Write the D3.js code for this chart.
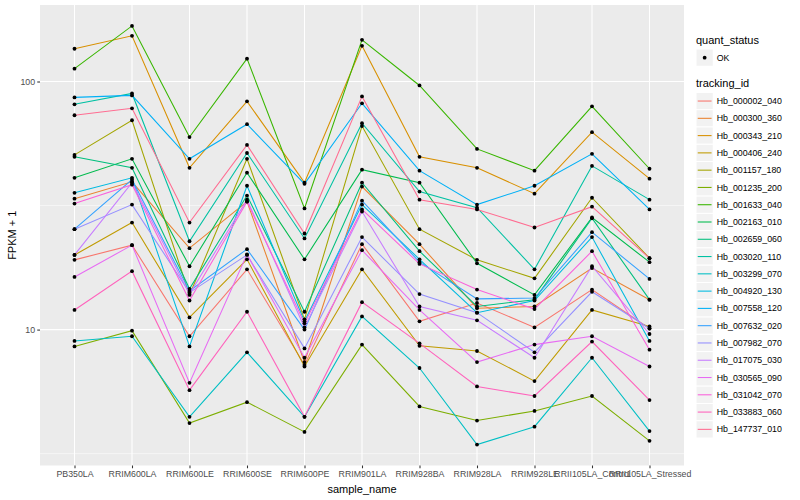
<!DOCTYPE html>
<html lang="en">
<head>
    <meta charset="UTF-8">
    <title>FPKM lines</title>
    <script src="https://d3js.org/d3.v7.min.js"></script>
    <style>
        body { margin: 0; background: #ffffff; }
        svg text { font-family: "Liberation Sans", Arial, Helvetica, sans-serif; }
    </style>
</head>
<body>
<svg id="chart" width="800" height="500"></svg>
<script>
    // samples on the x axis
    var samples = ["PB350LA", "RRIM600LA", "RRIM600LE", "RRIM600SE", "RRIM600PE", "RRIM901LA",
        "RRIM928BA", "RRIM928LA", "RRIM928LE", "RRII105LA_Control", "RRII105LA_Stressed"];

    var trackingIds = ["Hb_000002_040", "Hb_000300_360", "Hb_000343_210", "Hb_000406_240", "Hb_001157_180",
        "Hb_001235_200", "Hb_001633_040", "Hb_002163_010", "Hb_002659_060", "Hb_003020_110",
        "Hb_003299_070", "Hb_004920_130", "Hb_007558_120", "Hb_007632_020", "Hb_007982_070",
        "Hb_017075_030", "Hb_030565_090", "Hb_031042_070", "Hb_033883_060", "Hb_147737_010"];

    // FPKM + 1, one array per gene, in sample order
    var hb000002_040 = [19.1, 21.9, 9.4, 17.5, 7.2, 22.1, 10.8, 12.8, 10.2, 14.5, 10.1];
    var hb000300_360 = [33.7, 39.4, 21.3, 32.8, 7.4, 37.7, 22.1, 12.2, 12.4, 17.7, 13.2];
    var hb000343_210 = [135.5, 152.8, 44.9, 83.2, 39.1, 139.3, 49.7, 44.9, 35.3, 62.5, 40.6];
    var hb000406_240 = [20.0, 27.0, 11.2, 19.2, 7.1, 17.5, 8.6, 8.2, 6.2, 12.0, 10.3];
    var hb001157_180 = [50.6, 69.8, 13.8, 48.8, 11.0, 66.1, 25.4, 19.1, 16.1, 34.0, 19.4];
    var hb001235_200 = [8.55, 9.9, 4.2, 5.1, 3.87, 8.7, 4.9, 4.3, 4.7, 5.4, 3.56];
    var hb001633_040 = [112.7, 167.5, 59.7, 123.6, 30.8, 147.2, 96.4, 53.5, 43.7, 79.4, 44.5];
    var hb002163_010 = [40.9, 48.8, 18.0, 42.9, 19.2, 44.1, 39.1, 18.5, 13.8, 28.3, 18.7];
    var hb002659_060 = [49.7, 44.9, 14.6, 34.7, 11.8, 39.1, 20.7, 12.4, 13.2, 28.1, 13.2];
    var hb003020_110 = [80.9, 89.5, 22.7, 51.5, 23.3, 67.9, 36.0, 31.0, 17.5, 45.7, 33.4];
    var hb003299_070 = [9.0, 9.4, 4.45, 8.1, 4.45, 11.3, 7.0, 3.44, 4.06, 7.7, 3.9];
    var hb004920_130 = [35.6, 40.9, 8.55, 38.0, 10.8, 31.9, 19.2, 11.7, 13.1, 23.6, 9.0];
    var hb007558_120 = [86.3, 87.9, 48.8, 67.3, 38.7, 81.7, 43.7, 31.9, 38.0, 51.1, 30.5];
    var hb007632_020 = [25.4, 40.2, 14.3, 21.1, 10.0, 33.1, 18.7, 13.3, 13.4, 24.7, 16.0];
    var hb007982_070 = [25.4, 31.9, 14.1, 20.0, 8.4, 23.6, 13.9, 11.7, 8.1, 14.2, 10.1];
    var hb017075_030 = [20.0, 39.1, 13.9, 33.4, 10.2, 29.9, 12.4, 10.9, 7.7, 18.0, 9.6];
    var hb030565_090 = [16.3, 21.9, 6.1, 20.1, 7.7, 20.9, 12.0, 7.4, 8.7, 9.4, 7.1];
    var hb031042_070 = [32.2, 38.4, 13.1, 32.8, 10.6, 30.5, 18.4, 14.5, 12.1, 20.7, 8.3];
    var hb033883_060 = [12.0, 17.2, 5.7, 11.8, 4.45, 12.9, 8.8, 5.9, 5.4, 8.95, 5.2];
    var hb147737_010 = [73.1, 78.0, 27.0, 55.5, 24.4, 87.1, 33.4, 30.5, 25.8, 31.3, 19.4];

    var yTicks = [10, 100];
    var yTickLabels = ["10", "100"];
    var statusLevels = ["OK"];

    var seriesValues = [hb000002_040, hb000300_360, hb000343_210, hb000406_240, hb001157_180,
        hb001235_200, hb001633_040, hb002163_010, hb002659_060, hb003020_110,
        hb003299_070, hb004920_130, hb007558_120, hb007632_020, hb007982_070,
        hb017075_030, hb030565_090, hb031042_070, hb033883_060, hb147737_010];

    var series = trackingIds.map(function (id, i) {
        return {
            id: id,
            values: seriesValues[i].map(function (v, j) { return {sample: samples[j], value: v}; })
        };
    });

    // ggplot2 default hue palette for 20 levels
    var palette = ["#F8766D", "#EA8331", "#D89000", "#C09B00", "#A3A500", "#7CAE00", "#39B600",
        "#00BB4E", "#00BF7D", "#00C1A3", "#00BFC4", "#00BAE0", "#00B0F6", "#35A2FF", "#9590FF",
        "#C77CFF", "#E76BF3", "#FA62DB", "#FF62BC", "#FF6C91"];
    var color = d3.scaleOrdinal().domain(trackingIds).range(palette);

    var panel = {left: 40, right: 684, top: 5, bottom: 465.5};
    var svg = d3.select("#chart");

    var x = d3.scalePoint().domain(samples).range([panel.left, panel.right]).padding(0.6);

    // log scale with the 5% expansion that ggplot adds
    var allValues = d3.merge(seriesValues);
    var logMin = Math.log10(d3.min(allValues)), logMax = Math.log10(d3.max(allValues));
    var pad = (logMax - logMin) * 0.05;
    var y = d3.scaleLog()
        .domain([Math.pow(10, logMin - pad), Math.pow(10, logMax + pad)])
        .range([panel.bottom, panel.top]);

    // panel background
    svg.append("rect")
        .attr("x", panel.left).attr("y", panel.top)
        .attr("width", panel.right - panel.left).attr("height", panel.bottom - panel.top)
        .attr("fill", "#EBEBEB");

    var grid = svg.append("g");
    var minorTicks = [Math.sqrt(10), Math.sqrt(1000)];
    grid.selectAll(".minor")
        .data(minorTicks.filter(function (d) { return y(d) > panel.top && y(d) < panel.bottom; }))
        .enter().append("line")
        .attr("x1", panel.left).attr("x2", panel.right)
        .attr("y1", function (d) { return y(d); }).attr("y2", function (d) { return y(d); })
        .attr("stroke", "#ffffff").attr("stroke-width", 0.53);
    grid.selectAll(".majorY")
        .data(yTicks)
        .enter().append("line")
        .attr("x1", panel.left).attr("x2", panel.right)
        .attr("y1", function (d) { return y(d); }).attr("y2", function (d) { return y(d); })
        .attr("stroke", "#ffffff").attr("stroke-width", 1.07);
    grid.selectAll(".majorX")
        .data(samples)
        .enter().append("line")
        .attr("x1", function (d) { return x(d); }).attr("x2", function (d) { return x(d); })
        .attr("y1", panel.top).attr("y2", panel.bottom)
        .attr("stroke", "#ffffff").attr("stroke-width", 1.07);

    // lines
    var line = d3.line()
        .x(function (d) { return x(d.sample); })
        .y(function (d) { return y(d.value); });

    svg.append("g").selectAll("path")
        .data(series)
        .enter().append("path")
        .attr("d", function (d) { return line(d.values); })
        .attr("fill", "none")
        .attr("stroke", function (d) { return color(d.id); })
        .attr("stroke-width", 1.07);

    // points
    svg.append("g").selectAll("circle")
        .data(d3.merge(series.map(function (s) { return s.values; })))
        .enter().append("circle")
        .attr("cx", function (d) { return x(d.sample); })
        .attr("cy", function (d) { return y(d.value); })
        .attr("r", 1.9)
        .attr("fill", "#000000");

    // axes
    var xAxis = svg.append("g")
        .attr("transform", "translate(0," + panel.bottom + ")")
        .call(d3.axisBottom(x).tickSize(2.75).tickPadding(2.6));
    var yAxis = svg.append("g")
        .attr("transform", "translate(" + panel.left + ",0)")
        .call(d3.axisLeft(y).tickValues(yTicks)
            .tickFormat(function (d, i) { return yTickLabels[i]; })
            .tickSize(2.75).tickPadding(2.2));

    [xAxis, yAxis].forEach(function (a) {
        a.select(".domain").remove();
        a.selectAll(".tick line").attr("stroke", "#333333").attr("stroke-width", 1.07);
        a.selectAll(".tick text").attr("fill", "#4D4D4D").style("font-size", "8.8px");
    });

    svg.append("text")
        .attr("x", (panel.left + panel.right) / 2).attr("y", 493)
        .attr("text-anchor", "middle")
        .style("font-size", "11px")
        .text("sample_name");

    svg.append("text")
        .attr("transform", "translate(16," + (panel.top + panel.bottom) / 2 + ") rotate(-90)")
        .attr("text-anchor", "middle")
        .style("font-size", "11px")
        .text("FPKM + 1");

    // legends
    var lx = 696, keySize = 17.28;
    var legend = svg.append("g");

    legend.append("text").attr("x", lx).attr("y", 44).style("font-size", "11px").text("quant_status");
    var sKeys = legend.selectAll(".skey").data(statusLevels).enter().append("g")
        .attr("transform", function (d, i) { return "translate(" + lx + "," + (49 + i * keySize) + ")"; });
    sKeys.append("rect").attr("width", keySize).attr("height", keySize)
        .attr("fill", "#F2F2F2").attr("stroke", "#ffffff");
    sKeys.append("circle").attr("cx", keySize / 2).attr("cy", keySize / 2).attr("r", 1.9).attr("fill", "#000000");
    sKeys.append("text").attr("x", keySize + 3.5).attr("y", keySize / 2).attr("dy", "0.35em")
        .style("font-size", "8.8px").text(function (d) { return d; });

    legend.append("text").attr("x", lx).attr("y", 87).style("font-size", "11px").text("tracking_id");
    var tKeys = legend.selectAll(".tkey").data(trackingIds).enter().append("g")
        .attr("transform", function (d, i) { return "translate(" + lx + "," + (92.4 + i * keySize) + ")"; });
    tKeys.append("rect").attr("width", keySize).attr("height", keySize)
        .attr("fill", "#F2F2F2").attr("stroke", "#ffffff");
    tKeys.append("line")
        .attr("x1", keySize * 0.1).attr("x2", keySize * 0.9)
        .attr("y1", keySize / 2).attr("y2", keySize / 2)
        .attr("stroke", function (d) { return color(d); }).attr("stroke-width", 1.07);
    tKeys.append("text").attr("x", keySize + 3.5).attr("y", keySize / 2).attr("dy", "0.35em")
        .style("font-size", "8.8px").text(function (d) { return d; });
</script>
</body>
</html>
